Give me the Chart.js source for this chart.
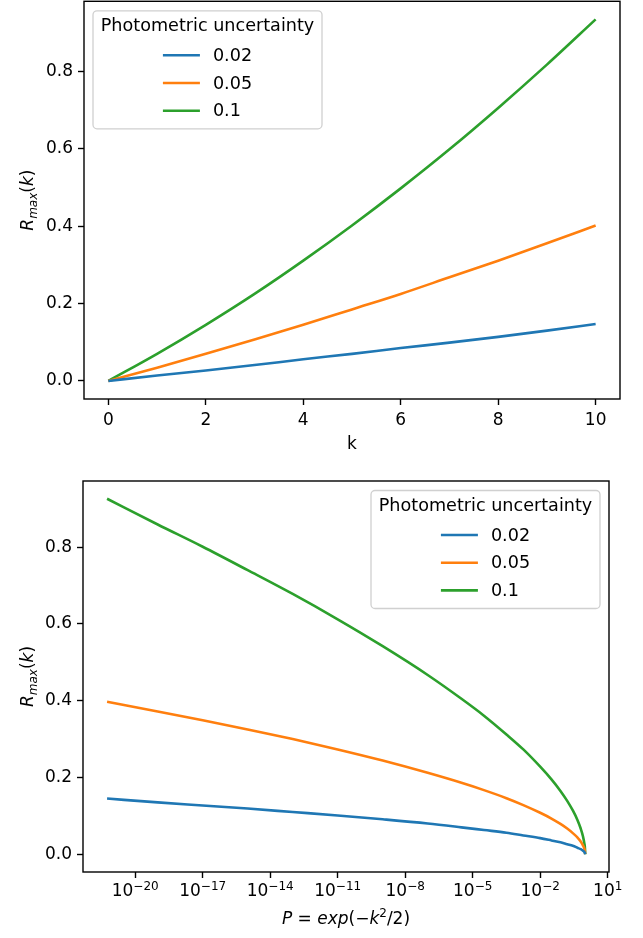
<!DOCTYPE html>
<html>
<head>
<meta charset="utf-8">
<script src="https://cdn.jsdelivr.net/npm/chart.js@4.4.1/dist/chart.umd.min.js"></script>
<style>
html, body { margin: 0; padding: 0; background: #fff; }
#wrap { position: relative; width: 643px; height: 938px; }
canvas { position: absolute; left: 0; }
</style>
</head>
<body>
<div id="wrap">
  <canvas id="top" width="643" height="469" style="top:0"></canvas>
  <canvas id="bottom" width="643" height="469" style="top:469px"></canvas>
</div>
<script>
// values
const seriesLabels = ["0.02", "0.05", "0.1"];
const seriesColors = ["#1f77b4", "#ff7f0e", "#2ca02c"];

// top panel: R_max against k
const kValues = [0, 1, 2, 3, 4, 5, 6, 7, 8, 9, 10];
const r002 = [0, 0.014, 0.027, 0.041, 0.056, 0.070, 0.085, 0.099, 0.114, 0.130, 0.147];
const r005 = [0, 0.034, 0.070, 0.107, 0.145, 0.185, 0.225, 0.268, 0.311, 0.356, 0.402];
const r010 = [0, 0.070, 0.145, 0.225, 0.311, 0.402, 0.498, 0.599, 0.706, 0.818, 0.935];
const kTicks = [0, 2, 4, 6, 8, 10];
const rTicks = [0, 0.2, 0.4, 0.6, 0.8];

// bottom panel: R_max against P (given as exponents of 10)
const pExps = [-21.25, -19, -17, -15, -13, -11, -9, -7, -5.5, -4.5, -3.5, -2.75, -2, -1.5, -1.1, -0.8, -0.55, -0.35, -0.2, -0.1, -0.04, -0.01, 0];
const p002 = [0.145, 0.135, 0.127, 0.119, 0.110, 0.101, 0.091, 0.080, 0.070, 0.063, 0.056, 0.049, 0.042, 0.036, 0.031, 0.026, 0.022, 0.017, 0.013, 0.009, 0.006, 0.003, 0];
const p005 = [0.397, 0.372, 0.349, 0.325, 0.300, 0.273, 0.244, 0.212, 0.186, 0.167, 0.146, 0.128, 0.108, 0.093, 0.079, 0.067, 0.055, 0.044, 0.033, 0.023, 0.015, 0.007, 0];
const p010 = [0.926, 0.859, 0.801, 0.740, 0.678, 0.612, 0.542, 0.467, 0.405, 0.361, 0.312, 0.273, 0.228, 0.195, 0.165, 0.139, 0.114, 0.090, 0.067, 0.047, 0.029, 0.015, 0];
const pTickExps = [-20, -17, -14, -11, -8, -5, -2, 1];

const FONT = "DejaVu Sans";
const FS = 17;
const LFS = 17.6;

function fontOf(s) {
    return (s.it ? "italic " : "") + (s.sz || FS) + "px \"" + FONT + "\"";
}

function drawRich(ctx, segs, cx, cy, rotate) {
    ctx.save();
    ctx.translate(cx, cy);
    if (rotate) ctx.rotate(-Math.PI / 2);
    let w = 0;
    segs.forEach(s => { ctx.font = fontOf(s); s.w = ctx.measureText(s.t).width; w += s.w; });
    let x = -w / 2;
    ctx.textAlign = "left";
    ctx.textBaseline = "alphabetic";
    ctx.fillStyle = "#000";
    segs.forEach(s => {
        ctx.font = fontOf(s);
        ctx.fillText(s.t, x, FS * 0.36 + (s.dy || 0));
        x += s.w;
    });
    ctx.restore();
}

function roundRect(ctx, x, y, w, h, r) {
    ctx.beginPath();
    ctx.moveTo(x + r, y);
    ctx.arcTo(x + w, y, x + w, y + h, r);
    ctx.arcTo(x + w, y + h, x, y + h, r);
    ctx.arcTo(x, y + h, x, y, r);
    ctx.arcTo(x, y, x + w, y, r);
    ctx.closePath();
}

const decor = {
    id: "decor",
    afterDatasetsDraw(chart, args, o) {
        const ctx = chart.ctx;
        const a = chart.chartArea;
        ctx.save();
        // frame
        ctx.strokeStyle = "#000";
        ctx.lineWidth = 1.4;
        ctx.strokeRect(a.left, a.top, a.right - a.left, a.bottom - a.top);

        // legend
        const lw = 229, lh = 118;
        const lx = o.legendSide === "left" ? a.left + 9 : a.right - 9 - lw;
        const ly = a.top + 9.5;
        ctx.fillStyle = "rgba(255,255,255,0.8)";
        ctx.strokeStyle = "#d0d0d0";
        ctx.lineWidth = 1.3;
        roundRect(ctx, lx, ly, lw, lh, 4);
        ctx.fill();
        ctx.stroke();

        const cx = lx + lw / 2;
        ctx.font = LFS + "px \"" + FONT + "\"";
        ctx.fillStyle = "#000";
        ctx.textBaseline = "middle";
        ctx.textAlign = "center";
        ctx.fillText(o.legendTitle, cx, ly + 15.5);

        let maxw = 0;
        chart.data.datasets.forEach(d => { maxw = Math.max(maxw, ctx.measureText(d.label).width); });
        const handle = 37, gap = 13;
        const x0 = cx - (handle + gap + maxw) / 2;
        ctx.textAlign = "left";
        chart.data.datasets.forEach((d, i) => {
            const y = ly + 44.5 + i * 27.7;
            ctx.strokeStyle = d.borderColor;
            ctx.lineWidth = 2.6;
            ctx.beginPath();
            ctx.moveTo(x0, y);
            ctx.lineTo(x0 + handle, y);
            ctx.stroke();
            ctx.fillStyle = "#000";
            ctx.fillText(d.label, x0 + handle + gap, y + 1);
        });

        // power-of-ten tick labels, drawn with a raised exponent
        if (o.logTicks) {
            const sx = chart.scales.x;
            o.logTicks.forEach(e => {
                const x = sx.getPixelForValue(Math.pow(10, e));
                drawRich(ctx, [{ t: "10" }, { t: String(e).replace("-", "\u2212"), sz: 12, dy: -6.5 }], x, a.bottom + 18, false);
            });
        }

        // axis titles
        drawRich(ctx, o.xTitle, (a.left + a.right) / 2, o.xTitleY, false);
        drawRich(ctx, o.yTitle, 27, (a.top + a.bottom) / 2, true);
        ctx.restore();
    }
};

function makeDatasets(xs, ys) {
    return ys.map((vals, i) => ({
        label: seriesLabels[i],
        data: xs.map((x, j) => ({ x: x, y: vals[j] })),
        borderColor: seriesColors[i],
        borderWidth: 2.6,
        pointRadius: 0,
        fill: false,
        cubicInterpolationMode: "monotone"
    }));
}

function axisStyle() {
    return {
        grid: { display: true, drawOnChartArea: false, drawTicks: true, tickLength: 6, tickWidth: 1.4, tickColor: "#000" },
        border: { display: false },
        ticks: { font: { family: FONT, size: FS }, color: "#000", padding: 5, maxRotation: 0, autoSkip: false }
    };
}

const yTitle = [
    { t: "R", it: true },
    { t: "max", it: true, sz: 12, dy: 4 },
    { t: "(" },
    { t: "k", it: true },
    { t: ")" }
];

// top chart
const topX = Object.assign(axisStyle(), {
    type: "linear", min: -0.5, max: 10.5,
    afterBuildTicks: s => { s.ticks = kTicks.map(v => ({ value: v })); },
    afterFit: s => { s.height = 70; s.paddingLeft = 0; s.paddingRight = 0; }
});
topX.ticks.callback = v => String(v);
const topY = Object.assign(axisStyle(), {
    type: "linear", min: -0.04675, max: 0.98175,
    afterBuildTicks: s => { s.ticks = rTicks.map(v => ({ value: v })); },
    afterFit: s => { s.width = 84; s.paddingTop = 0; s.paddingBottom = 0; }
});
topY.ticks.callback = v => v.toFixed(1);

new Chart(document.getElementById("top"), {
    type: "line",
    data: { datasets: makeDatasets(kValues, [r002, r005, r010]) },
    options: {
        responsive: false,
        animation: false,
        layout: { padding: { left: 0, top: 1.3, right: 23, bottom: 0 } },
        scales: { x: topX, y: topY },
        plugins: {
            legend: { display: false },
            tooltip: { enabled: false },
            decor: {
                legendSide: "left",
                legendTitle: "Photometric uncertainty",
                xTitle: [{ t: "k" }],
                xTitleY: 443,
                yTitle: yTitle
            }
        }
    },
    plugins: [decor]
});

// bottom chart
const botX = Object.assign(axisStyle(), {
    type: "logarithmic", min: Math.pow(10, -22.32), max: Math.pow(10, 1.058),
    afterBuildTicks: s => { s.ticks = pTickExps.map(e => ({ value: Math.pow(10, e) })); },
    afterFit: s => { s.height = 66; s.paddingLeft = 0; s.paddingRight = 0; }
});
botX.ticks.color = "rgba(0,0,0,0)";
botX.ticks.callback = () => "";
const botY = Object.assign(axisStyle(), {
    type: "linear", min: -0.0463, max: 0.9723,
    afterBuildTicks: s => { s.ticks = rTicks.map(v => ({ value: v })); },
    afterFit: s => { s.width = 83; s.paddingTop = 0; s.paddingBottom = 0; }
});
botY.ticks.callback = v => v.toFixed(1);

new Chart(document.getElementById("bottom"), {
    type: "line",
    data: { datasets: makeDatasets(pExps.map(e => Math.pow(10, e)), [p002, p005, p010]) },
    options: {
        responsive: false,
        animation: false,
        layout: { padding: { left: 0, top: 12, right: 34, bottom: 0 } },
        scales: { x: botX, y: botY },
        plugins: {
            legend: { display: false },
            tooltip: { enabled: false },
            decor: {
                legendSide: "right",
                legendTitle: "Photometric uncertainty",
                logTicks: pTickExps,
                xTitle: [
                    { t: "P", it: true },
                    { t: " = " },
                    { t: "exp", it: true },
                    { t: "(\u2212" },
                    { t: "k", it: true },
                    { t: "2", sz: 12, dy: -7 },
                    { t: "/2)" }
                ],
                xTitleY: 449,
                yTitle: yTitle
            }
        }
    },
    plugins: [decor]
});
</script>
</body>
</html>
